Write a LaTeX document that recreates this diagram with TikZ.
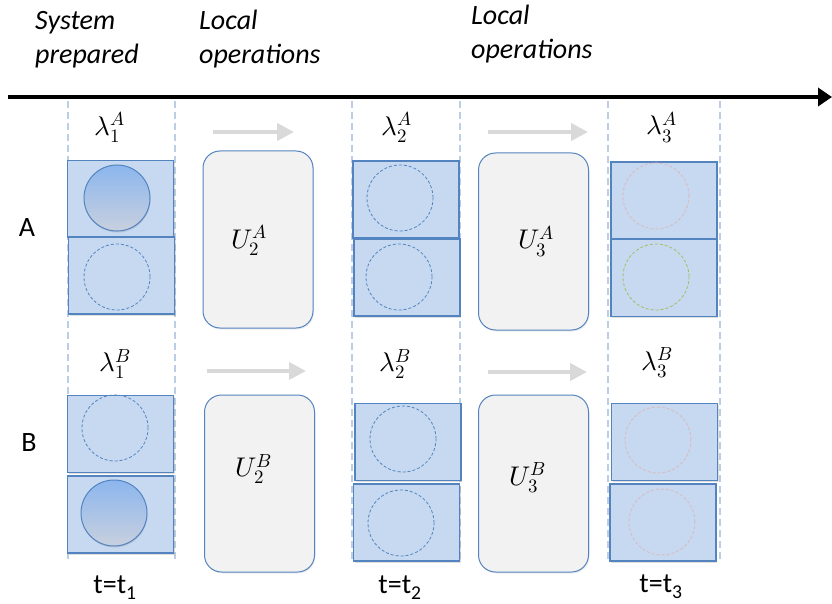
\documentclass[tikz,border=0pt]{standalone}
\usepackage{fontspec}
\usepackage{unicode-math}
\setmainfont{Carlito}
\setmathfont{Latin Modern Math}
\usetikzlibrary{arrows.meta,shadows}
\definecolor{cellfill}{RGB}{198,217,241}
\definecolor{celledge}{RGB}{84,132,192}
\definecolor{opfill}{RGB}{242,242,242}
\definecolor{vdashc}{RGB}{188,206,230}
\definecolor{grayarr}{RGB}{217,217,217}
\definecolor{pinkc}{RGB}{214,190,196}
\definecolor{greenc}{RGB}{160,192,96}
\definecolor{balltop}{RGB}{140,182,238}
\definecolor{ballbot}{RGB}{200,208,222}
\begin{document}
\begin{tikzpicture}[x=1pt,y=-1pt,
  cell/.style={draw=celledge, line width=1.1pt, fill=cellfill, minimum width=106pt, minimum height=77pt, inner sep=0pt,
    drop shadow={shadow xshift=1pt,shadow yshift=-1.5pt,opacity=0.25}},
  ring/.style={circle, draw=celledge, line width=0.8pt, dash pattern=on 3pt off 2pt, minimum size=66pt, inner sep=0pt},
  pinkring/.style={ring, draw=pinkc, line width=1pt},
  greenring/.style={ring, draw=greenc},
  ball/.style={circle, draw=celledge, line width=1pt, top color=balltop, bottom color=ballbot, minimum size=66pt, inner sep=0pt,
    drop shadow={shadow xshift=0.5pt,shadow yshift=-1.5pt,opacity=0.25}},
  opbox/.style={draw=celledge, line width=1pt, fill=opfill, rounded corners=17pt, minimum width=110pt, minimum height=177pt, inner sep=0pt,
    drop shadow={shadow xshift=1pt,shadow yshift=-1.5pt,opacity=0.15}},
  vdash/.style={draw=vdashc, line width=2pt, dash pattern=on 7pt off 4pt},
  grayarrow/.style={draw=grayarr, line width=4pt, -{Triangle[length=17pt,width=17pt]}},
  timeaxis/.style={draw=black, line width=4pt, -{Triangle[length=14pt,width=18pt]}},
  titletext/.style={font=\fontsize{28}{34}\selectfont\itshape, anchor=base west, inner sep=0pt},
  rowtext/.style={font=\fontsize{28}{34}\selectfont, anchor=base, inner sep=0pt},
  mathlabel/.style={font=\fontsize{27}{31}\selectfont, inner sep=0pt}
]
\useasboundingbox (0,0) rectangle (832,604);

% titles
\node[titletext] (ti1a) at (35,30) {System};
\node[titletext] (ti1b) at (35,64) {prepared};
\node[titletext] (ti2a) at (199,30) {Local};
\node[titletext] (ti2b) at (199,64) {operations};
\node[titletext] (ti3a) at (471,25) {Local};
\node[titletext] (ti3b) at (471,59) {operations};

% time axis
\coordinate (axs) at (8,97);
\coordinate (axe) at (832,97);
\draw[timeaxis] (axs) -- (axe);

% dashed column lines
\foreach \n/\xx in {1/68,2/175,3/352,4/460,5/608,6/720}{
  \coordinate (v\n t) at (\xx,101);
  \coordinate (v\n b) at (\xx,559);
  \draw[vdash] (v\n t) -- (v\n b);
}

% row labels
\node[rowtext] (rowA) at (27,236) {A};
\node[rowtext] (rowB) at (29,451) {B};

% column 1
\node[cell] (c1at) at (120.5,199) {};
\node[cell] (c1ab) at (121.5,275.5) {};
\node[cell] (c1bt) at (120.5,434) {};
\node[cell] (c1bb) at (120.5,514.5) {};
\node[ball] (r1at) at (117,198) {};
\node[ring] (r1ab) at (117,277) {};
\node[ring] (r1bt) at (115,428) {};
\node[ball] (r1bb) at (114,513) {};

% column 2
\node[cell] (c2at) at (406,199.5) {};
\node[cell] (c2ab) at (407,277.5) {};
\node[cell] (c2bt) at (408,442) {};
\node[cell] (c2bb) at (406.5,522.5) {};
\node[ring] (r2at) at (400,198) {};
\node[ring] (r2ab) at (399,277) {};
\node[ring] (r2bt) at (403,439) {};
\node[ring] (r2bb) at (401,523) {};

% column 3
\node[cell] (c3at) at (664,200.5) {};
\node[cell] (c3ab) at (664,278) {};
\node[cell] (c3bt) at (664.5,442) {};
\node[cell] (c3bb) at (663,522.5) {};
\node[pinkring] (r3at) at (656,196) {};
\node[greenring] (r3ab) at (656,277) {};
\node[pinkring] (r3bt) at (658,440) {};
\node[pinkring] (r3bb) at (662,522) {};

% lambda labels
\node[mathlabel] (l1A) at (110,127) {$\lambda_1^A$};
\node[mathlabel] (l2A) at (397,127) {$\lambda_2^A$};
\node[mathlabel] (l3A) at (662,127) {$\lambda_3^A$};
\node[mathlabel] (l1B) at (115,364) {$\lambda_1^B$};
\node[mathlabel] (l2B) at (395,364) {$\lambda_2^B$};
\node[mathlabel] (l3B) at (657,363) {$\lambda_3^B$};

% operation boxes
\node[opbox] (u2a) at (258,239.5) {};
\node[opbox] (u3a) at (533.5,241.5) {};
\node[opbox] (u2b) at (259.5,483.5) {};
\node[opbox] (u3b) at (533.5,483.5) {};
\node[mathlabel] (u2aL) at (249,240) {$U_2^A$};
\node[mathlabel] (u3aL) at (536,241) {$U_3^A$};
\node[mathlabel] (u2bL) at (254,469) {$U_2^B$};
\node[mathlabel] (u3bL) at (528,478) {$U_3^B$};

% gray arrows
\coordinate (g1s) at (213,132); \coordinate (g1e) at (294,132);
\coordinate (g2s) at (488,132); \coordinate (g2e) at (588,132);
\coordinate (g3s) at (207,371); \coordinate (g3e) at (306,371);
\coordinate (g4s) at (488,372); \coordinate (g4e) at (587,372);
\draw[grayarrow] (g1s) -- (g1e);
\draw[grayarrow] (g2s) -- (g2e);
\draw[grayarrow] (g3s) -- (g3e);
\draw[grayarrow] (g4s) -- (g4e);

% time labels
\node[rowtext] (tt1) at (115,593) {t=t\textsubscript{1}};
\node[rowtext] (tt2) at (400,593) {t=t\textsubscript{2}};
\node[rowtext] (tt3) at (661,592) {t=t\textsubscript{3}};
\end{tikzpicture}
\end{document}
